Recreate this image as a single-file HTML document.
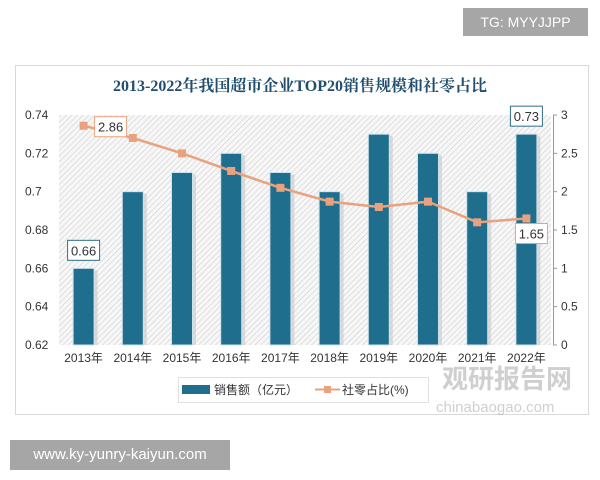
<!DOCTYPE html>
<html><head><meta charset="utf-8"><style>
body{margin:0;width:600px;height:480px;background:#fff;font-family:"Liberation Sans","Noto Sans CJK SC",sans-serif;overflow:hidden;position:relative}
.tg{position:absolute;left:463px;top:8px;width:125px;height:28px;background:#a6a6a6;color:#fff;font-size:14px;line-height:28px;text-align:center}
.url{position:absolute;left:10px;top:440px;width:220px;height:30px;background:#a6a6a6;color:#fff;font-size:15px;line-height:30px;text-align:center}
</style></head><body>
<div class="tg">TG: MYYJJPP</div>
<svg width="600" height="480" style="position:absolute;left:0;top:0" id="chart">
<defs><pattern id="hatch" width="4" height="4" patternUnits="userSpaceOnUse" patternTransform="rotate(45)"><rect width="4" height="4" fill="#f7f7f7"/><line x1="0" y1="0" x2="0" y2="4" stroke="#cfcfcf" stroke-width="1.2"/></pattern></defs>
<rect x="15.5" y="65.5" width="573" height="349" fill="#fff" stroke="#d9d9d9"/>
<text x="300" y="91" text-anchor="middle" font-family="Liberation Serif,'Noto Serif CJK SC',serif" font-weight="bold" font-size="16" fill="#1f4e6e">2013-2022年我国超市企业TOP20销售规模和社零占比</text>
<rect x="59" y="115" width="492" height="230" fill="url(#hatch)"/>
<g id="g"></g>
<g>
<rect x="178.5" y="377.5" width="250" height="25" fill="#fff" stroke="#e0e0e0"/>
<rect x="182" y="385" width="28" height="9" fill="#1f6e8e"/>
<text x="214" y="394" font-size="12" fill="#333">销售额（亿元）</text>
<line x1="315" y1="389.5" x2="340" y2="389.5" stroke="#e8a27f" stroke-width="2"/><rect x="324" y="386" width="7" height="7" fill="#e8a27f"/>
<text x="342" y="394" font-size="12" fill="#333">社零占比(%)</text>
</g>
<g opacity="0.4">
<text x="442" y="388" font-size="26" font-weight="bold" fill="#888">观研报告网</text>
<text x="436" y="412" font-size="15" fill="#888">chinabaogao.com</text>
</g>
</svg>
<div class="url">www.ky-yunry-kaiyun.com</div>
<script>
const categories=["2013年","2014年","2015年","2016年","2017年","2018年","2019年","2020年","2021年","2022年"];
const sales=[0.66,0.70,0.71,0.72,0.71,0.70,0.73,0.72,0.70,0.73];
const share=[2.86,2.70,2.50,2.27,2.05,1.87,1.80,1.87,1.60,1.65];
const leftTicks=[0.62,0.64,0.66,0.68,0.70,0.72,0.74];
const rightTicks=[0,0.5,1,1.5,2,2.5,3];
const leftLabels=["0.62","0.64","0.66","0.68","0.7","0.72","0.74"];
const rightLabels=["0","0.5","1","1.5","2","2.5","3"];
const NS="http://www.w3.org/2000/svg";
const g=document.getElementById('g');
const X0=59,X1=551,Y0=345,Y1=115;
const step=(X1-X0)/categories.length;
const xc=i=>X0+step*(i+0.5);
const yl=v=>Y0-(v-0.62)/(0.74-0.62)*(Y0-Y1);
const yr=v=>Y0-v/3*(Y0-Y1);
function mk(t,a,txt){const e=document.createElementNS(NS,t);for(const k in a)e.setAttribute(k,a[k]);if(txt!==undefined)e.textContent=txt;g.appendChild(e);return e;}
leftTicks.forEach((v,i)=>{const e=mk('text',{x:25,y:yl(v)+4,'font-size':12,fill:'#333'},leftLabels[i]);

});
mk('line',{x1:553.5,y1:Y1,x2:553.5,y2:Y0,stroke:'#999'});
rightTicks.forEach((v,i)=>{mk('line',{x1:553,y1:yr(v),x2:557,y2:yr(v),stroke:'#999'});
const e=mk('text',{x:561,y:yr(v)+4,'font-size':12,fill:'#333'},rightLabels[i]);

});
categories.forEach((c,i)=>{
mk('rect',{x:xc(i)-10+3,y:yl(sales[i])+2,width:21,height:Y0-yl(sales[i])-2,fill:'#c8c8c8',opacity:0.6});
const b=mk('rect',{x:xc(i)-10.5,y:yl(sales[i]),width:21,height:Y0-yl(sales[i]),fill:'#1f6e8e',stroke:'#cfe3ec','stroke-width':1});


const t=mk('text',{x:xc(i),y:362,'font-size':12,'text-anchor':'middle',fill:'#333'},c);


});
mk('polyline',{points:share.map((v,i)=>xc(i)+','+yr(v)).join(' '),fill:'none',stroke:'#e8a27f','stroke-width':2.5});
share.forEach((v,i)=>{const m=mk('rect',{x:xc(i)-4,y:yr(v)-4,width:8,height:8,fill:'#e8a27f'});

});
function lbl(x,y,txt,col){mk('rect',{x:x-16,y:y-10,width:32,height:20,fill:'#fff',stroke:col});
const t=mk('text',{x:x,y:y+5,'font-size':13,'text-anchor':'middle',fill:'#333'},txt);

}
lbl(xc(0),yl(sales[0])-18,sales[0].toFixed(2),'#2d6e8a');
lbl(xc(9),yl(sales[9])-18,sales[9].toFixed(2),'#2d6e8a');
lbl(xc(0)+27,yr(share[0])+1,share[0].toFixed(2),'#e8a27f');
lbl(xc(9)+5,yr(share[9])+15,share[9].toFixed(2),'#e8a27f');
</script>
</body></html>
